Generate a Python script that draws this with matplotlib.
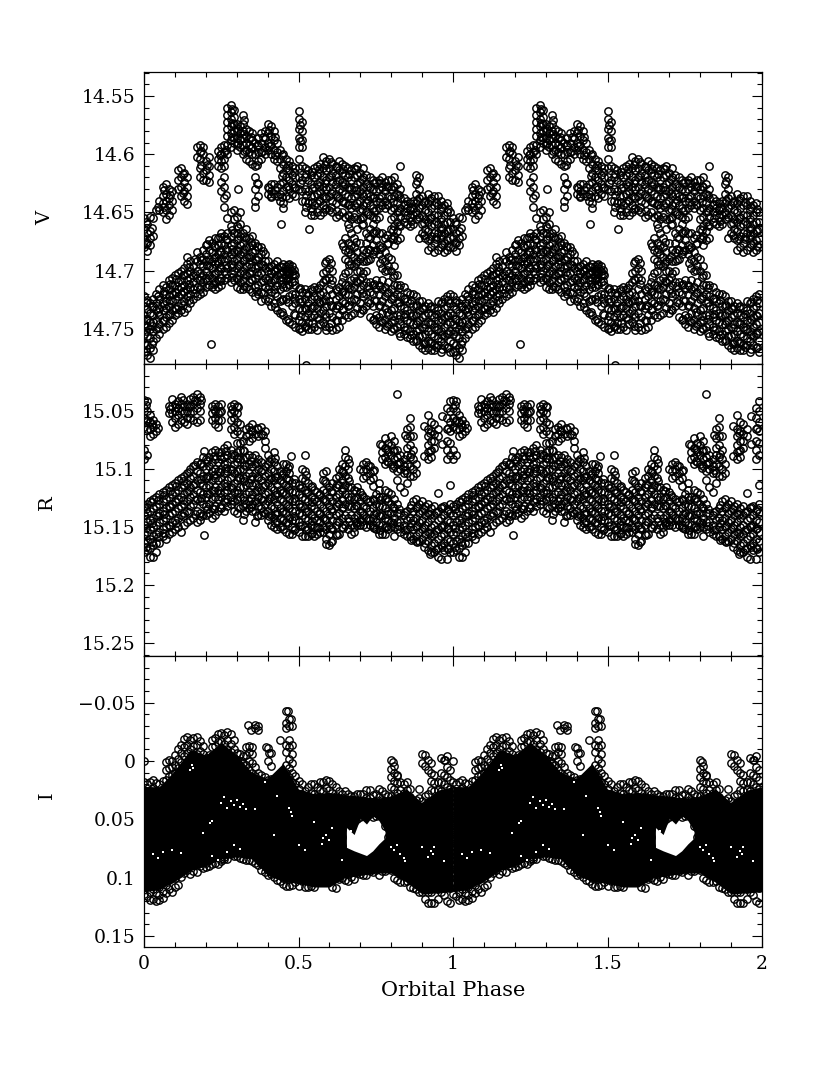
# -*- coding: utf-8 -*-
import matplotlib
matplotlib.use("Agg")
import matplotlib.pyplot as plt

# phase of each column of points, the folded curve is drawn twice (0-1 and 1-2)
phase = [0.00,0.01,0.02,0.03,0.04,0.05,0.06,0.07,0.08,0.09,
         0.10,0.11,0.12,0.13,0.14,0.15,0.16,0.17,0.18,0.19,
         0.20,0.21,0.22,0.23,0.24,0.25,0.26,0.27,0.28,0.29,
         0.30,0.31,0.32,0.33,0.34,0.35,0.36,0.37,0.38,0.39,
         0.40,0.41,0.42,0.43,0.44,0.45,0.46,0.47,0.48,0.49,
         0.50,0.51,0.52,0.53,0.54,0.55,0.56,0.57,0.58,0.59,
         0.60,0.61,0.62,0.63,0.64,0.65,0.66,0.67,0.68,0.69,
         0.70,0.71,0.72,0.73,0.74,0.75,0.76,0.77,0.78,0.79,
         0.80,0.81,0.82,0.83,0.84,0.85,0.86,0.87,0.88,0.89,
         0.90,0.91,0.92,0.93,0.94,0.95,0.96,0.97,0.98,0.99]

# second set of columns, between the first ones
phase2 = [0.005,0.025,0.045,0.065,0.085,0.105,0.125,0.145,0.165,0.185,
          0.205,0.225,0.245,0.265,0.285,0.305,0.325,0.345,0.365,0.385,
          0.405,0.425,0.445,0.465,0.485,0.505,0.525,0.545,0.565,0.585,
          0.605,0.625,0.645,0.665,0.685,0.705,0.725,0.745,0.765,0.785,
          0.805,0.825,0.845,0.865,0.885,0.905,0.925,0.945,0.965,0.985]

# V, millimag above 14
v_mmag = [
 [655,664,672,680,722,730,738,746,754,762,770],[660,668,676,683,725,733,741,748,756,764,772],
 [654,666,672,678,728,736,744,750,758,766,775],[655,670,724,730,738,744,752,760,768],
 [648,720,728,734,742,750,758],[640,648,716,724,732,738,746,754],
 [628,636,642,650,712,720,728,734,742,750],[626,634,640,648,656,714,720,726,732,740,748],
 [630,638,644,652,708,716,722,730,738,745],[632,640,648,706,712,720,726,734,742],
 [704,712,718,724,732,738],[614,622,630,702,710,716,722,730,736],
 [612,620,628,636,700,708,714,720,728,734],[616,624,632,640,698,704,712,718,726,735],
 [620,628,636,643,694,702,708,716,722,732],[692,700,706,714,720,728],
 [696,704,710,716,724],[594,602,684,692,700,706,714,722],
 [592,598,604,612,620,688,694,702,708,716,720],[594,600,616,622,682,690,696,704,710,718],
 [606,614,622,678,686,692,700,706,714],[602,610,618,624,674,682,690,696,704,712],
 [676,684,692,698,706,714],[672,680,688,694,702,710,716],
 [597,604,610,672,678,686,692,700,708,714],[594,600,606,612,624,632,668,676,684,690,698,706,712],
 [592,598,604,610,620,628,638,645,670,678,686,692,700,708],[560,566,572,578,584,592,600,655,668,674,682,690,698,706],
 [558,564,570,576,582,588,594,650,662,670,678,686,694,702,710],[562,568,574,580,586,590,648,656,668,676,684,692,700,708],
 [574,580,586,592,596,654,662,668,674,682,690,698,706,714],[576,582,588,594,650,660,670,678,686,694,702,710,716],
 [566,574,580,586,592,600,668,676,684,692,700,708,716],[578,584,590,596,604,664,672,680,688,696,704,714],
 [580,586,592,598,606,672,680,688,694,702,710,716],[582,588,594,600,608,670,678,684,692,700,708,718],
 [590,600,610,620,630,640,645,676,682,690,698,706,714,722],[586,592,598,606,626,636,680,688,696,704,712,720],
 [582,590,598,604,680,686,694,702,710,718,726],[580,586,594,600,686,692,698,706,714,724],
 [574,582,590,596,628,634,692,700,708,716,726],[576,584,592,600,626,632,636,696,702,710,718,730],
 [580,588,596,604,626,634,700,694,708,716,728],[590,598,606,628,636,698,692,704,712,722,734],
 [596,604,612,626,634,640,696,702,708,716,726,736],[600,608,616,624,632,642,646,700,694,706,714,724,738],
 [604,612,620,628,636,696,700,704,708,714,724,742],[606,614,622,630,638,694,698,702,706,712,722,744],
 [610,618,626,634,696,700,704,710,720,730,746],[612,620,628,636,704,712,720,728,738,748],
 [563,570,578,586,594,604,612,620,630,716,724,732,742,750],[572,580,588,594,610,622,632,640,718,726,734,744,752],
 [612,620,630,640,650,716,724,732,740,748],[614,622,632,642,720,728,736,744,750],
 [618,626,636,646,652,716,724,732,740,750],[612,620,628,636,644,652,714,722,730,738,748],
 [610,618,626,634,642,650,716,724,732,740,751],[608,616,624,632,640,652,712,720,728,736,746],
 [602,612,620,628,636,644,650,702,710,718,726,734,744],[606,614,622,630,638,646,692,700,708,722,730,740,751],
 [604,612,620,628,636,648,690,698,706,716,726,736,748],[608,616,624,632,640,650,700,708,720,730,740,751],
 [610,618,626,634,642,654,716,724,732,742,750],[606,614,622,630,638,652,714,722,730,738,748],
 [608,616,624,632,640,650,676,710,718,726,734,742],[610,618,626,634,642,654,672,682,690,702,712,720,728,738],
 [612,620,628,636,644,652,660,676,684,692,700,712,720,730,740],[614,622,630,638,646,656,668,678,686,694,708,716,726,738],
 [612,620,628,636,644,654,672,680,688,696,706,714,724,736],[610,618,626,634,642,656,664,684,692,700,710,720,732],
 [616,624,632,640,648,656,676,690,700,708,716,728,736],[612,620,628,636,644,654,660,682,692,702,712,722,734],
 [618,626,634,642,650,668,676,684,692,700,710,720,730],[620,628,636,644,652,664,672,682,690,710,718,728,740],
 [622,630,638,646,654,660,668,678,686,712,720,730,742],[624,632,640,648,656,666,674,682,708,716,726,738,746],
 [622,630,638,646,654,668,678,686,712,720,730,740,748],[620,628,636,644,668,680,690,698,708,716,726,736,744],
 [624,632,640,646,672,684,692,700,714,722,732,742,750],[622,628,636,644,676,688,696,710,718,728,738,746],
 [622,630,638,648,656,664,672,690,700,716,724,734,744,752],[620,628,636,646,654,662,670,678,696,704,712,722,732,742,750],
 [626,634,642,650,658,666,674,704,712,720,728,738,748],[630,638,646,654,662,672,712,722,730,738,746,756],
 [638,644,650,658,714,724,732,740,748,754],[640,646,652,660,718,726,734,742,750,757],
 [642,648,654,662,720,728,736,744,752,758],[640,646,652,660,720,730,738,746,754,760],
 [618,626,634,642,650,656,722,730,738,746,752,760],[620,630,638,646,654,672,726,734,742,750,756,764],
 [636,644,652,660,668,726,732,740,748,756,766],[640,648,656,664,672,730,738,746,754,762,768],
 [634,642,650,658,666,674,682,728,736,744,752,760,766],[638,646,654,662,670,680,730,738,746,754,762,768],
 [636,644,652,660,668,676,684,732,740,748,756,764,768],[636,644,652,660,668,682,726,734,742,750,758,764],
 [640,648,656,664,672,680,728,736,744,752,760,770],[644,652,660,668,676,684,724,732,740,748,756,764],
 [642,650,658,666,674,682,722,730,738,746,754,766],[650,658,664,672,680,720,728,736,744,752,760,770]]

v_mmag2 = [
 [658,675,727,741,752,769],[663,731,747,763],[645,722,735,749],[631,645,717,729,743],[635,711,725,737],
 [707,719,733],[617,633,704,717,729],[697,711,725],[690,703,719],[597,609,691,705,713],
 [609,677,695,708],[679,689,703,711],[601,671,683,697,709],[596,635,673,681,695,703],[561,573,585,665,681,689,697,705],
 [578,590,663,673,683,695,707],[571,583,597,671,681,691,703,713],[585,595,675,687,697,707],[593,609,625,679,691,701,717],[585,597,683,695,709,719],
 [579,593,629,697,705,713,723],[585,601,631,699,707,719,731],[601,619,637,697,703,711,725,735],[609,627,695,699,703,707,711,727,741],[615,629,699,703,709,723,737],
 [575,589,625,715,727,739,749],[617,635,645,719,733,747],[615,629,641,649,717,731,745],[613,627,639,715,727,741],[609,625,637,647,693,707,725,737,747],
 [607,619,633,645,693,711,729,745],[611,623,637,649,717,729,743],[613,627,641,679,705,717,733],[617,629,643,653,663,681,695,715,729],[613,631,645,675,693,709,725],
 [621,633,647,655,661,687,705,719,733],[627,639,651,671,681,691,713,727],[625,637,649,667,683,711,725,741],[625,641,681,693,713,729,743],[627,643,669,677,699,719,735,747],
 [627,641,665,673,705,723,739,749],[635,649,661,715,727,741,753],[643,655,723,737,751],[645,657,725,739,755],[623,639,651,729,743,759],
 [641,659,669,733,749,763],[639,655,673,731,745,761],[641,657,671,737,751,765],[645,663,677,727,741,755,767],[647,665,679,725,739,753,765]]

v_extra_phase = [0.216,0.525,0.534,0.442,0.827,0.962,0.945,0.305,0.41,0.24,0.14]
v_extra_mmag = [763,781,664,660,610,669,673,630,637,693,688]

# R, millimag above 15
r_mmag = [
 [41,48,56,64,84,92,132,140,148,156,164,172],[42,50,58,66,88,130,138,146,154,162,170],
 [54,60,66,72,128,136,144,152,160,168,176],[58,64,70,126,134,142,150,158,166,176],
 [62,68,124,132,140,148,156,164,172],[122,130,138,146,154,164],
 [120,128,136,144,152,158],[118,126,134,142,150,160],
 [46,52,116,124,132,140,148,156],[40,46,52,60,114,122,130,138,146,154],
 [44,50,56,64,112,120,128,136,144,152],[42,48,54,62,110,118,126,134,142,150],
 [38,44,50,58,108,116,124,132,140,154],[46,52,60,106,114,122,130,138,148],
 [44,50,56,62,104,112,120,128,136,146],[40,46,52,56,100,108,116,124,132,144],
 [38,44,50,58,98,106,114,122,130,142],[36,42,48,60,94,102,110,118,126,136,146],
 [38,44,50,58,96,104,112,120,128,138,144],[90,98,106,114,122,130,140],
 [92,100,108,116,124,132,140],[90,98,106,114,122,130,138],
 [46,52,58,86,94,102,110,118,126,134,142],[44,50,56,62,84,92,100,108,116,124,132,140],
 [46,52,58,86,94,102,110,118,126,136],[44,50,58,86,92,100,108,116,124,134],
 [82,90,96,104,112,120,128,136],[80,88,94,102,110,118,126,132],
 [46,52,58,66,84,92,100,108,116,124,130],[44,50,56,64,70,88,96,104,112,120,128,136],
 [46,52,60,68,78,86,94,102,110,118,126,138],[62,70,78,84,92,100,108,116,124,134],
 [76,84,92,100,108,116,124,132,144],[66,72,90,98,106,114,122,130,136],
 [64,70,76,88,96,104,112,120,128,134],[62,68,74,90,98,106,114,122,130,136],
 [70,88,96,104,112,120,128,136,146],[66,72,92,100,108,116,124,132,140],
 [64,70,94,102,110,118,126,134,140],[68,76,82,98,106,114,122,130,138],
 [88,96,104,112,120,128,136,144],[92,100,108,116,124,132,140,148],
 [86,94,102,110,118,126,134,142,150],[98,106,114,122,130,138,146,152],
 [102,110,118,126,134,142,150],[96,104,112,120,128,136,144,152],
 [96,102,108,114,122,130,138,146,154],[98,104,110,118,126,134,142,156],
 [112,120,128,136,144,150,156],[112,120,128,136,144,152],
 [114,122,130,138,146,154],[100,108,116,124,132,140,148,158],
 [102,110,118,126,134,142,150,158],[112,120,128,136,144,152,158],
 [116,124,132,140,148,156],[118,126,134,142,150,158],
 [120,128,136,144,150,156],[122,130,138,146,154],
 [104,110,118,126,134,142,150,154],[102,112,120,128,136,144,152,160,165],
 [116,124,132,140,148,156,166],[112,120,128,136,144,152,162],
 [108,116,124,132,140,148,156],[100,106,114,122,130,138,146,156],
 [96,102,110,118,126,134,142,150],[84,90,98,106,114,122,130,140,148],
 [92,100,108,116,124,132,142,152],[116,124,132,140,148,156],
 [118,126,134,142,150,154],[116,124,132,140,148,146],
 [100,120,128,136,144,148],[96,102,108,124,132,140,148],
 [94,100,106,126,134,142,150],[98,104,110,128,136,144,148],
 [102,108,126,134,142,150,148],[122,130,138,146,152],
 [112,118,124,132,140,148,156],[80,86,92,124,132,140,148,156],
 [74,82,90,96,118,126,134,142,150,156],[78,86,94,120,128,136,144,152],
 [72,80,88,96,122,130,138,146,150],[76,84,92,98,126,134,142,150,158],
 [84,90,96,102,110,130,138,146,152],[88,94,100,116,138,146,154],
 [92,98,104,120,140,148,156],[66,74,82,88,96,104,112,136,144,152,158],
 [56,64,72,80,90,98,106,134,142,150,158],[72,84,92,100,106,128,136,144,152,160],
 [96,104,126,134,142,150,158,162],[130,138,146,154,162],
 [128,136,144,152,160],[132,140,148,156,164],
 [54,66,72,80,86,92,130,138,146,154,162,170],[60,68,76,84,90,134,142,150,158,166,172],
 [62,70,76,82,132,140,148,156,164,172],[66,72,136,144,152,160,168,176],
 [134,142,150,158,166,178],[132,140,148,156,164,170],
 [48,56,66,76,84,92,136,144,152,160,168,178],[42,50,60,68,78,88,130,138,146,154,162,172],
 [58,66,72,134,142,150,158,166,174],[62,68,74,132,140,148,156,164,176]]

r_mmag2 = [
 [45,60,135,151,167],[62,129,147,163],[65,127,141,159],[123,139,155],[49,119,133,149],
 [47,115,129,147],[41,111,127,141],[47,103,119,137],[41,97,113,127,139],[41,95,109,125,141],
 [93,107,121,135],[49,89,105,119,135],[51,89,103,121,133],[85,99,115,129],[49,87,101,117,127],
 [47,91,107,121,133],[85,97,111,127,139],[67,93,109,125,133],[65,95,107,119,129,141],[71,101,115,127,137],
 [93,109,125,141],[91,107,123,139,147],[105,121,137,149],[99,115,131,147],[109,125,141,153],
 [117,133,149],[105,121,137,153],[115,129,145,155],[123,139,151],[111,127,143],
 [119,135,151,163],[113,129,145,157],[103,117,133,151],[95,111,127,145],[119,131,147],
 [123,137,145],[97,129,143],[101,127,139,151],[79,127,141,153],[83,93,125,139,149],
 [85,99,133,147],[95,135,149],[71,101,137,153],[87,131,147,161],[133,149,163],
 [63,89,135,151,167],[69,85,139,155,173],[137,153,169],[55,79,133,149,167],[65,135,151,169]]

r_extra_phase = [0.195,0.195,0.24,0.30,0.52,0.475,0.82,0.74,0.99,0.95]
r_extra_mmag = [157,85,64,91,88,89,36,115,114,121]

# I, millimag
i_mmag = [
 [0,18,25,33,40,47,55,62,69,76,84,91,98,105,114],[20,27,34,42,49,56,63,71,78,85,93,100,108,116],
 [18,26,32,39,47,54,61,68,76,83,90,97,105,112,119],[16,23,30,38,45,52,60,67,74,81,89,96,103,110,118],
 [19,26,33,41,48,55,62,70,77,84,91,99,106,113,120],[20,27,35,42,49,57,64,71,79,86,93,100,108,115,119],
 [17,24,31,39,46,53,60,68,75,82,90,97,104,111,117],[1,8,16,24,32,39,47,54,62,69,77,84,92,99,106,113],
 [-1,6,13,21,28,36,43,50,58,65,72,80,87,94,102,110],[0,5,12,19,27,34,41,49,56,63,71,78,85,93,100,112],
 [-5,3,10,18,25,33,40,48,55,63,70,78,85,92,100,108],[-10,-2,6,14,22,29,37,44,52,59,67,74,82,90,97,106],
 [-14,-7,1,9,16,24,31,39,46,54,61,69,76,84,91,99],[-19,-12,-4,4,12,19,27,34,42,49,57,64,72,80,88,96],
 [-21,-14,-7,1,8,15,23,30,38,45,53,60,68,75,83,93],[-18,-10,-3,5,13,21,28,36,43,51,58,66,73,81,89,97],
 [-20,-13,-5,-2,16,24,32,39,47,54,62,69,77,84,94],[-21,-14,-6,2,18,26,33,41,48,56,63,71,78,86,95],
 [-17,-9,-1,6,14,22,30,37,45,52,60,67,75,82,90],[-13,-6,2,10,18,25,33,40,48,55,63,70,78,85,92],
 [-3,4,12,19,27,34,42,49,57,64,72,79,87,91],[-5,3,11,18,26,33,41,48,56,63,71,78,85,90],
 [-18,-12,-4,4,12,20,28,35,43,50,58,65,73,80,88],[-20,-13,-6,2,10,17,25,33,40,48,55,63,70,78,87],
 [-23,-16,-8,0,8,16,23,33,40,51,59,66,74,81,88],[-24,-17,-9,-1,7,15,22,35,47,54,62,69,77,84,86],
 [-22,-15,-7,1,9,17,24,38,52,60,67,75,82,84],[-25,-18,-10,-2,6,14,21,29,36,52,58,65,73,80,84],
 [-23,-15,-8,0,8,15,23,31,42,50,58,65,73,80],[-18,-10,-3,5,12,20,27,35,44,52,59,67,74,81],
 [-7,-1,6,14,21,29,36,44,52,59,67,74,79,81],[-6,0,7,15,22,30,37,45,52,60,67,75,83],
 [-4,2,9,17,24,31,39,46,54,61,69,76,84],[-12,-5,3,11,19,26,34,41,49,57,64,72,80,85],
 [-13,-8,0,8,16,24,31,39,47,54,62,70,77,85],[-12,-6,2,10,18,26,33,41,48,56,63,71,79,86],
 [-31,-28,5,13,21,28,36,43,51,58,66,73,81,87],[-30,-27,10,18,25,33,40,48,55,63,70,78,85,89],
 [12,19,27,34,42,49,57,64,72,79,87,93],[14,21,29,36,44,51,58,66,73,81,88,95],
 [-11,0,16,23,31,38,46,53,60,68,75,83,90,98],[-7,4,15,22,30,37,45,52,59,67,74,82,89,97],
 [17,24,32,39,47,54,62,69,76,84,91,99],[14,20,28,35,43,50,58,65,73,80,88,96,102],
 [16,23,31,38,45,53,60,68,75,83,90,98,103],[18,25,33,40,47,55,62,70,77,85,92,100,105],
 [-43,-33,-28,-14,-8,3,10,18,25,32,40,55,62,70,77,85,92,100,107],[-36,-30,-18,-12,-2,6,14,21,29,36,50,58,65,73,80,88,95,107],
 [-30,-14,-6,2,10,18,25,33,40,48,58,66,73,81,88,96,106],[13,20,28,35,43,50,58,65,73,80,88,96,104],
 [17,24,32,39,47,54,62,70,77,85,93,100,107],[20,28,35,43,50,58,65,73,80,88,96,103],
 [26,33,41,48,56,63,71,78,86,93,100,108],[22,30,37,45,52,60,67,75,82,90,98,108],
 [20,27,35,42,50,57,65,72,80,87,95,107],[20,28,35,43,50,58,65,73,80,88,96,108],
 [22,30,37,45,52,60,67,75,83,90,98,104],[18,25,33,41,48,56,64,71,79,87,94,101],
 [18,26,33,41,48,56,63,71,78,86,94,100],[16,23,31,38,46,53,61,68,76,84,92,99],
 [17,25,32,40,47,55,63,70,78,86,94,102],[20,27,35,42,50,57,65,72,80,88,96,108],
 [22,30,37,45,52,60,67,75,82,90,98,109],[26,33,41,48,56,63,71,79,86,93,101],
 [28,35,43,50,58,65,73,81,88,95,100],[26,33,40,47,78,84,90,96,102],
 [28,35,42,49,80,85,91,97,103],[30,37,44,51,82,87,93,99],
 [30,37,44,52,84,89,95,101],[28,35,42,50,85,90,96],
 [28,34,41,48,85,91,97],[28,34,41,86,92,98],
 [25,32,39,47,87,92,98],[25,32,38,45,88,94],
 [29,35,42,48,90,95],[28,35,41,47,88,93],
 [24,31,38,44,79,86,92,98],[26,33,40,46,75,82,88,94],
 [28,35,42,48,56,72,80,87,94],[30,37,44,50,57,65,75,84,92],
 [-1,7,14,22,30,37,44,52,60,70,78,86,93],[4,10,17,24,32,40,47,55,63,74,82,90,100],
 [12,19,27,34,42,49,56,64,70,79,87,95,102],[18,25,33,40,48,55,62,67,74,81,88,97,104],
 [20,27,35,42,49,57,64,70,90,97,104],[18,25,32,40,47,54,62,70,90,96,103],
 [24,31,39,46,54,61,69,76,84,91,99,108],[34,41,48,56,63,71,78,86,93,101,109],
 [33,40,48,55,62,70,77,85,92,100,110],[24,32,40,47,55,62,70,78,85,93,104,112],
 [-6,2,34,42,49,57,64,72,79,87,94,102,112],[-5,4,30,38,48,55,63,70,78,85,93,100,110,118],
 [-1,8,28,35,50,58,65,73,80,88,95,103,112,122],[2,10,17,25,48,56,63,71,78,86,94,102,112,122],
 [12,19,26,33,42,50,57,65,72,80,88,96,105,122],[18,25,33,40,48,55,62,70,77,85,93,101,110,118],
 [-3,10,18,26,33,41,48,56,63,71,78,86,94,102,112],[-1,12,20,28,35,43,50,58,65,73,80,88,96,104,115],
 [-4,5,14,22,30,37,45,52,60,67,75,82,90,98,108,120],[8,16,24,32,39,47,54,62,69,77,84,92,100,109,122]]

i_extra_phase = [0.44,0.465,0.475,0.335,0.345,0.395,0.405,0.805,0.82,0.975]
i_extra_mmag = [-18,-43,-36,-31,-27,-12,-7,1,13,-1]

# the I band is so crowded that it reads as solid black between these edges
i_core_phase = [0.00,0.05,0.10,0.15,0.20,0.25,0.30,0.35,0.40,0.45,0.50,
                0.55,0.60,0.65,0.70,0.75,0.80,0.85,0.90,0.95,1.00]
i_core_top = [22,22,8,-10,-5,-16,-5,10,15,2,24,28,27,29,30,32,30,24,36,25,22]
i_core_bot = [112,110,103,94,90,84,82,84,98,103,105,108,108,100,98,96,96,104,114,113,112]

# the empty patch in the I band
i_gap_phase = [0.655,0.68,0.70,0.72,0.74,0.76,0.78]
i_gap_top = [57,63,49,54,47,51,60]
i_gap_bot = [74,77,79,81,77,71,66]

# small white gaps left between rings in the I band
i_speck_phase = [0.25,0.26,0.27,0.28,0.29,0.30,0.31,0.32,0.33,0.22,0.215,0.155,0.16,0.15,
                 0.47,0.475,0.48,0.61,0.84,0.845,0.83,0.93,0.935,0.94,0.42,0.52,0.575,
                 0.03,0.045,0.06,0.22,0.24,0.27,0.29,0.31,0.80,0.81,0.82,0.59,0.60,0.09,
                 0.36,0.39,0.43,0.55,0.58,0.64,0.67,0.90,0.92,0.97,0.12,0.19,0.50]
i_speck_mmag = [36,31,40,34,38,33,39,37,41,51,53,3,6,8,40,44,47,57,83,86,80,77,80,74,63,76,71,
                80,83,78,81,85,78,72,75,74,76,72,63,68,76,
                41,18,30,52,66,85,60,74,82,86,79,62,72]

v_ticks = [14.55,14.6,14.65,14.7,14.75]
v_labels = ['14.55','14.6','14.65','14.7','14.75']
r_ticks = [15.05,15.1,15.15,15.2,15.25]
r_labels = ['15.05','15.1','15.15','15.2','15.25']
i_ticks = [-0.05,0,0.05,0.1,0.15]
i_labels = ['\u22120.05','0','0.05','0.1','0.15']
x_ticks = [0,0.5,1,1.5,2]
x_labels = ['0','0.5','1','1.5','2']
x_minor = [0.1,0.2,0.3,0.4,0.6,0.7,0.8,0.9,1.1,1.2,1.3,1.4,1.6,1.7,1.8,1.9]

W, H = 830.0, 1075.0
FONT = 'DejaVu Serif'

def flatten(columns, columns2, base, extra_phase, extra_mmag):
    xs, ys = [], []
    for p, col in list(zip(phase, columns)) + list(zip(phase2, columns2)):
        for m in col:
            xs.append(p)
            ys.append(base + m / 1000.0)
    for p, m in zip(extra_phase, extra_mmag):
        xs.append(p)
        ys.append(base + m / 1000.0)
    return xs, ys

def panel(top, bottom, ylim, xs, ys, ticks, labels, mew):
    ax = fig.add_axes([144 / W, 1 - bottom / H, 618 / W, (bottom - top) / H])
    for shift in (0, 1):
        ax.plot([x + shift for x in xs], ys, 'o', mfc='none', mec='black', ms=5.3, mew=mew, zorder=3)
    ax.set_xlim(0, 2)
    ax.set_ylim(*ylim)
    ax.set_xticks(x_ticks)
    ax.set_xticks(x_minor, minor=True)
    ax.set_yticks(ticks)
    ax.set_yticklabels(labels, fontsize=13.5, family=FONT)
    minor = []
    t = round(ylim[1], 2)
    while t <= ylim[0]:
        if round(t, 2) not in [round(k, 2) for k in ticks]:
            minor.append(round(t, 2))
        t += 0.01
    ax.set_yticks(minor, minor=True)
    ax.tick_params(which='major', direction='in', top=True, right=True, length=7, width=0.8, pad=6)
    ax.tick_params(which='minor', direction='in', top=True, right=True, length=3.8, width=0.8)
    for s in ax.spines.values():
        s.set_linewidth(0.9)
        s.set_zorder(5)
    return ax

fig = plt.figure(figsize=(8.3, 10.75), dpi=100)

vx, vy = flatten(v_mmag, v_mmag2, 14.0, v_extra_phase, v_extra_mmag)
rx, ry = flatten(r_mmag, r_mmag2, 15.0, r_extra_phase, r_extra_mmag)
ix, iy = flatten(i_mmag, [], 0.0, i_extra_phase, i_extra_mmag)

ax1 = panel(72, 364, (14.78, 14.5295), vx, vy, v_ticks, v_labels, 1.05)
ax2 = panel(364, 656, (15.261, 15.0106), rx, ry, r_ticks, r_labels, 1.05)
ax3 = panel(656, 947, (0.1594, -0.0894), ix, iy, i_ticks, i_labels, 1.0)
ax1.set_xticklabels([])
ax2.set_xticklabels([])
ax3.set_xticklabels(x_labels, fontsize=13.5, family=FONT)

for shift in (0, 1):
    ax3.fill_between([p + shift for p in i_core_phase], [m / 1000.0 for m in i_core_top],
                     [m / 1000.0 for m in i_core_bot], color='black', lw=0, zorder=1)
    ax3.fill_between([p + shift for p in i_gap_phase], [m / 1000.0 for m in i_gap_top],
                     [m / 1000.0 for m in i_gap_bot], color='white', lw=0, zorder=2)
    ax3.plot([p + shift for p in i_speck_phase], [m / 1000.0 for m in i_speck_mmag], 's',
             color='white', ms=2, mew=0, zorder=4)

fig.text(45 / W, 1 - 218 / H, 'V', rotation=90, ha='center', va='center', fontsize=14, family=FONT)
fig.text(47 / W, 1 - 503 / H, 'R', rotation=90, ha='center', va='center', fontsize=14, family=FONT)
fig.text(47 / W, 1 - 795 / H, 'I', rotation=90, ha='center', va='center', fontsize=14, family=FONT)
fig.text(453 / W, 1 - 991 / H, 'Orbital Phase', ha='center', va='center', fontsize=15, family=FONT)

fig.savefig('out.png', dpi=100)
plt.close("all")
